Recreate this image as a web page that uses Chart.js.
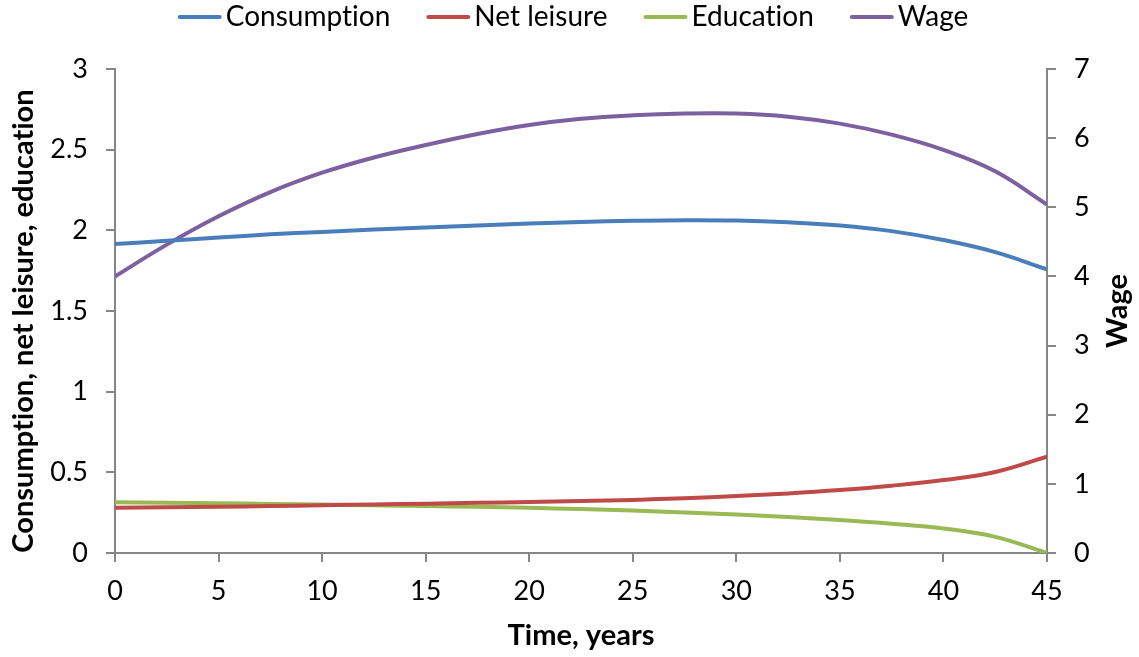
<!DOCTYPE html>
<html>
<head>
<meta charset="utf-8">
<script src="https://cdn.jsdelivr.net/npm/chart.js@4.4.1/dist/chart.umd.min.js"></script>
<style>
html,body{margin:0;padding:0;background:#fff;}
#wrap{width:1139px;height:657px;position:relative;}
</style>
</head>
<body>
<div id="wrap"><canvas id="c" width="1139" height="657"></canvas></div>
<script>
const years = [0, 2.5, 5, 7.5, 10, 12.5, 15, 17.5, 20, 22.5, 25, 27.5, 30, 32.5, 35, 37.5, 40, 42.5, 45];
const consumption = [1.915, 1.935, 1.955, 1.975, 1.99, 2.005, 2.018, 2.03, 2.042, 2.052, 2.059, 2.063, 2.061, 2.05, 2.03, 1.995, 1.94, 1.865, 1.758];
const netLeisure = [0.281, 0.284, 0.287, 0.291, 0.296, 0.301, 0.306, 0.311, 0.316, 0.322, 0.329, 0.34, 0.353, 0.369, 0.39, 0.417, 0.452, 0.502, 0.597];
const education = [0.314, 0.311, 0.308, 0.304, 0.300, 0.296, 0.291, 0.286, 0.280, 0.272, 0.263, 0.251, 0.238, 0.223, 0.205, 0.182, 0.152, 0.100, 0.0];
const wage = [4.00, 4.46, 4.87, 5.22, 5.50, 5.72, 5.90, 6.06, 6.19, 6.28, 6.33, 6.355, 6.355, 6.31, 6.21, 6.05, 5.83, 5.52, 5.04];

const seriesNames = ['Consumption', 'Net leisure', 'Education', 'Wage'];
const xTitle = 'Time, years';
const yLeftTitle = 'Consumption, net leisure, education';
const yRightTitle = 'Wage';

const colors = ['#4A7EBB', '#BE4B48', '#98B954', '#7D60A0'];
const axisColor = '#868686';
const FONT = 'Lato';

function pts(arr){ return years.map((x,i)=>({x:x, y:arr[i]})); }

const decorPlugin = {
  id: 'decor',
  afterDraw(chart){
    const ctx = chart.ctx;
    ctx.save();
    // legend
    ctx.font = '28px ' + FONT;
    if ('letterSpacing' in ctx) ctx.letterSpacing = '0.01px';
    ctx.textBaseline = 'middle';
    ctx.textAlign = 'left';
    const lineW = 44, gap = 4, spacing = 36;
    const items = chart.data.datasets.map(d => ({label:d.label, color:d.borderColor, w: ctx.measureText(d.label).width}));
    let total = 0;
    items.forEach((it,i)=>{ total += lineW + gap + it.w + (i < items.length-1 ? spacing : 0); });
    let x = 573 - total/2;
    const y = 17;
    items.forEach(it=>{
      ctx.strokeStyle = it.color;
      ctx.lineWidth = 4;
      ctx.lineCap = 'round';
      ctx.beginPath(); ctx.moveTo(x+2, y); ctx.lineTo(x+lineW-2, y); ctx.stroke();
      ctx.fillStyle = '#000';
      ctx.fillText(it.label, x + lineW + gap, y);
      x += lineW + gap + it.w + spacing;
    });
    // axis titles
    ctx.font = 'bold 29px ' + FONT;
    ctx.textAlign = 'center';
    ctx.fillStyle = '#000';
    const ca = chart.chartArea;
    ctx.fillText(xTitle, (ca.left + ca.right)/2, 636);
    ctx.save();
    ctx.translate(24, 321);
    ctx.rotate(-Math.PI/2);
    ctx.fillText(yLeftTitle, 0, 0);
    ctx.restore();
    ctx.save();
    ctx.translate(1118, 311);
    ctx.rotate(-Math.PI/2);
    ctx.fillText(yRightTitle, 0, 0);
    ctx.restore();
    ctx.restore();
  }
};

const tickFont = {family: FONT, size: 27};
const fmt = v => String(v);

new Chart(document.getElementById('c'), {
  type: 'line',
  data: {
    datasets: [
      {label: seriesNames[0], data: pts(consumption), borderColor: colors[0], yAxisID: 'y'},
      {label: seriesNames[1], data: pts(netLeisure), borderColor: colors[1], yAxisID: 'y'},
      {label: seriesNames[2], data: pts(education), borderColor: colors[2], yAxisID: 'y'},
      {label: seriesNames[3], data: pts(wage), borderColor: colors[3], yAxisID: 'y1'}
    ].map(d => Object.assign(d, {borderWidth: 4, pointRadius: 0, fill: false, tension: 0.4, backgroundColor: d.borderColor}))
  },
  options: {
    responsive: false,
    animation: false,
    layout: {padding: {top: 69, left: 0, right: 0, bottom: 0}},
    plugins: {legend: {display: false}, tooltip: {enabled: false}},
    scales: {
      x: {
        type: 'linear', min: 0, max: 45,
        afterFit(s){ s.height = 104; },
        ticks: {stepSize: 5, color: '#000', font: tickFont, padding: 13, maxRotation: 0, callback: fmt},
        grid: {drawOnChartArea: false, tickLength: 9, color: axisColor, lineWidth: 2},
        border: {color: axisColor, width: 2}
      },
      y: {
        position: 'left', min: 0, max: 3,
        afterFit(s){ s.width = 115; },
        ticks: {stepSize: 0.5, color: '#000', font: tickFont, padding: 18, callback: fmt},
        grid: {drawOnChartArea: false, tickLength: 9, color: axisColor, lineWidth: 2},
        border: {color: axisColor, width: 2}
      },
      y1: {
        position: 'right', min: 0, max: 7,
        afterFit(s){ s.width = 92; },
        ticks: {stepSize: 1, color: '#000', font: tickFont, padding: 18, callback: fmt},
        grid: {drawOnChartArea: false, tickLength: 9, color: axisColor, lineWidth: 2},
        border: {color: axisColor, width: 2}
      }
    }
  },
  plugins: [decorPlugin]
});
</script>
</body>
</html>
